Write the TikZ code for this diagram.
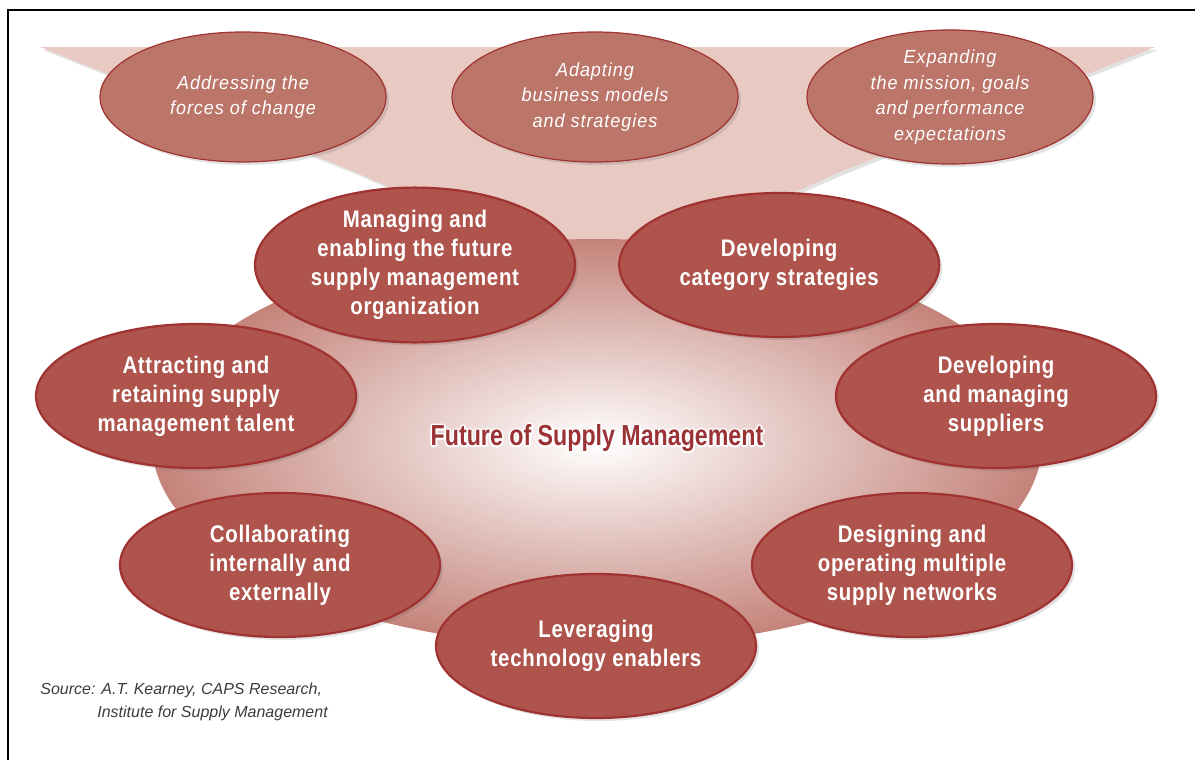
\documentclass[tikz,border=0pt]{standalone}
\usepackage{fontspec}
\setmainfont{Liberation Sans}
\newfontfamily\topfont{Liberation Sans}[FakeStretch=0.95,LetterSpace=5]
\newfontfamily\ringfont{Liberation Sans}[FakeStretch=0.85,LetterSpace=3]
\newfontfamily\titlefont{Liberation Sans}[FakeStretch=0.8]
\usepackage{tikz}
\usetikzlibrary{positioning}
\usetikzlibrary{shapes.geometric}
\usetikzlibrary{shadows}
\definecolor{funnelpink}{HTML}{E8CAC2}
\definecolor{topred}{HTML}{BC7569}
\definecolor{ringred}{HTML}{AE544C}
\definecolor{rimred}{HTML}{A03232}
\definecolor{coreedge}{HTML}{C4837A}
\definecolor{titlered}{HTML}{9B3236}
\definecolor{sourcegray}{HTML}{3C3C3C}
\newcommand\haloed[1]{\rlap{\special{pdf:literal 1 Tr 1.8 w 1 j 1 1 1 RG}#1\special{pdf:literal 0 Tr 1 w}}#1}
\tikzset{
	softshadow/.style={drop shadow={shadow xshift=1.5pt,shadow yshift=-1.5pt,opacity=.16,fill=black!70}},
	topoval/.style={ellipse,draw=rimred,line width=.6pt,fill=topred,text=white,minimum width=143pt,minimum height=65pt,inner sep=0pt,align=center,font=\topfont\itshape\fontsize{9.5}{12.85}\selectfont,softshadow},
	ringoval/.style={ellipse,draw=rimred,line width=1.1pt,fill=ringred,text=white,minimum width=160pt,minimum height=72pt,inner sep=0pt,align=center,font=\ringfont\bfseries\fontsize{12}{14.5}\selectfont,softshadow},
	titletext/.style={inner sep=0pt,text=titlered,font=\titlefont\bfseries\fontsize{14.5}{16}\selectfont},
}

\begin{document}
\begin{tikzpicture}[x=0.5pt,y=-0.5pt]
	\useasboundingbox (0,0) rectangle (1195,760);
	\draw [line width=1pt] (8,760) -- (8,10) -- (1195,10);
	\fill [funnelpink,softshadow] (40,47) -- (1155,47) -- (840,172) .. controls (720,225) and (670,252) .. (597,252) .. controls (525,252) and (475,225) .. (355,172) -- cycle;
	\node [ellipse,minimum width=445pt,minimum height=204pt,inner sep=0pt,inner color=white,outer color=coreedge] at (597,443) (core) {};
	\node [topoval] at (243,97) (0forces) {Addressing the\\forces of change};
	\node [topoval] at (595,97) (0models) {Adapting\\business models\\and strategies};
	\node [topoval] at (950,97) (0mission) {Expanding\\the mission, goals\\and performance\\expectations};
	\node [ringoval] at (415,265) (1org) {Managing and\\enabling the future\\supply management\\organization};
	\node [ringoval,right=21pt of 1org] (1category) {Developing\\category strategies};
	\node [ringoval] at (196,396) (2talent) {Attracting and\\retaining supply\\management talent};
	\node [ringoval] at (996,396) (2suppliers) {Developing\\and managing\\suppliers};
	\node [ringoval] at (280,565) (3collab) {Collaborating\\internally and\\externally};
	\node [ringoval] at (912,565) (3networks) {Designing and\\operating multiple\\supply networks};
	\node [ringoval] at (596,646) (4tech) {Leveraging\\technology enablers};
	\node [titletext] at (597,438) (title) {\haloed{Future of Supply Management}};
	\node [anchor=north west,inner sep=0pt,align=left,text=sourcegray,font=\itshape\fontsize{8}{11.5}\selectfont] at (40,683) (source) {Source: A.T. Kearney, CAPS Research,\\\hspace*{28.5pt}Institute for Supply Management};
\end{tikzpicture}
\end{document}
